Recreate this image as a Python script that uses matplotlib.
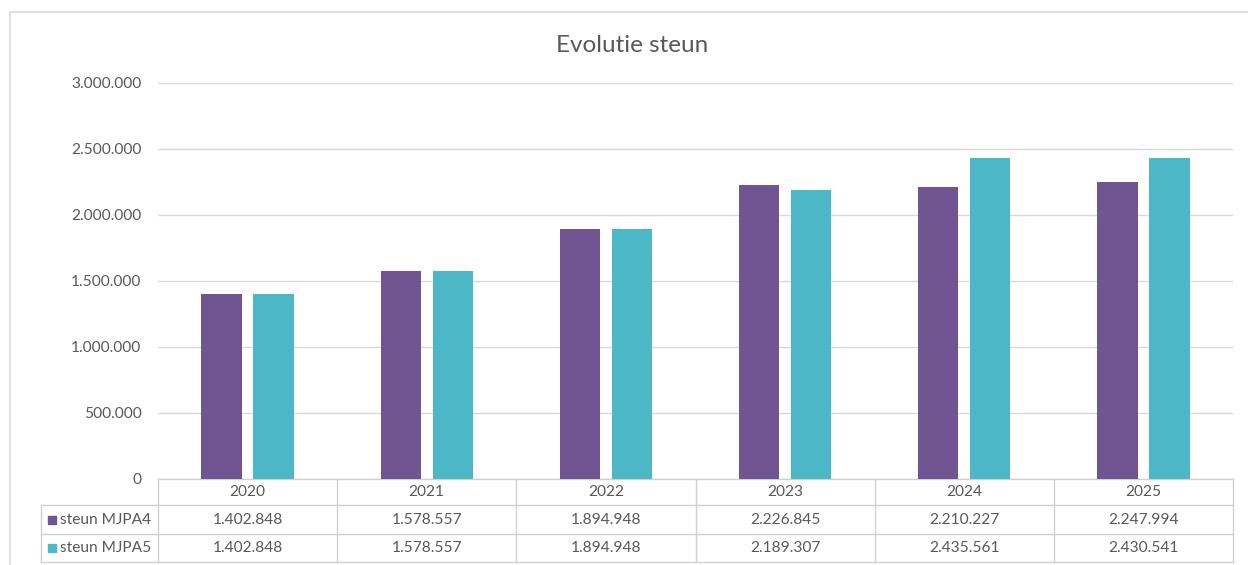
import matplotlib.pyplot as plt
from matplotlib.patches import Rectangle
from matplotlib.ticker import FuncFormatter
import matplotlib.transforms as mtransforms

# data
years = ["2020", "2021", "2022", "2023", "2024", "2025"]
steun_mjpa4 = [1402848, 1578557, 1894948, 2226845, 2210227, 2247994]
steun_mjpa5 = [1402848, 1578557, 1894948, 2189307, 2435561, 2430541]
series_names = ["steun MJPA4", "steun MJPA5"]

purple = "#705592"
teal = "#4BB7C7"
grey_txt = "#595959"
grid_col = "#D9D9D9"
plt.rcParams['font.family'] = ['Lato', 'DejaVu Sans']

W, H = 1248, 565
fig = plt.figure(figsize=(W / 100, H / 100), dpi=100)

# outer chart frame
fig.add_artist(Rectangle((10 / W, -0.1), 1.2, (H - 12) / H + 0.1,
                         transform=fig.transFigure, fill=False,
                         ec="#D9D9D9", lw=1.2))

ax = fig.add_axes([158 / W, (H - 479) / H, 1075 / W, 396 / H])

def dotted(v, pos):
    return f"{int(v):,}".replace(",", ".")

x = list(range(len(years)))
bw = 0.225
off = 0.145
ax.bar([i - off for i in x], steun_mjpa4, width=bw, color=purple, zorder=3)
ax.bar([i + off for i in x], steun_mjpa5, width=bw, color=teal, zorder=3)

ax.set_xlim(-0.5, len(years) - 0.5)
ax.set_ylim(0, 3000000)
ax.set_yticks(range(0, 3000001, 500000))
ax.yaxis.set_major_formatter(FuncFormatter(dotted))
ax.grid(axis="y", color=grid_col, lw=1, zorder=0)
ax.set_xticks([])
ax.tick_params(axis="y", length=0, pad=12, labelsize=11.2, labelcolor=grey_txt)
for s in ax.spines.values():
    s.set_visible(False)

fig.text(632 / W, (H - 45) / H, "Evolutie steun", fontsize=17.5, color=grey_txt,
         ha="center", va="center")

# data table below the plot
tr = mtransforms.blended_transform_factory(ax.transData, ax.transAxes)
px = 1 / 396
row_y = [0, -26 * px, -55 * px, -83 * px]
lab_left = -0.5 - 117 / 179.2
tcol = "#D0D0D0"
kw = dict(transform=tr, clip_on=False, color=tcol, lw=1)
ax.plot([-0.5, len(years) - 0.5], [row_y[0]] * 2, **kw)
for y in row_y[1:]:
    ax.plot([lab_left, len(years) - 0.5], [y, y], **kw)
for i in range(len(years) + 1):
    ax.plot([i - 0.5] * 2, [row_y[0], row_y[3]], **kw)
ax.plot([lab_left] * 2, [row_y[1], row_y[3]], **kw)

tkw = dict(transform=tr, ha="center", va="center", fontsize=11.2, color=grey_txt, clip_on=False)
for i, yr in enumerate(years):
    ax.text(i, (row_y[0] + row_y[1]) / 2, yr, **tkw)
    ax.text(i, (row_y[1] + row_y[2]) / 2, dotted(steun_mjpa4[i], None), **tkw)
    ax.text(i, (row_y[2] + row_y[3]) / 2, dotted(steun_mjpa5[i], None), **tkw)

for k, (name, col) in enumerate(zip(series_names, [purple, teal])):
    yc = (row_y[k + 1] + row_y[k + 2]) / 2
    key_w = 8 / 179.2
    ax.add_patch(Rectangle((lab_left + 7 / 179.2, yc - 4 * px), key_w, 8 * px,
                           transform=tr, color=col, clip_on=False))
    ax.text(lab_left + 19 / 179.2, yc, name, transform=tr, ha="left", va="center",
            fontsize=11.2, color=grey_txt, clip_on=False)

fig.savefig("out.png", dpi=100)
